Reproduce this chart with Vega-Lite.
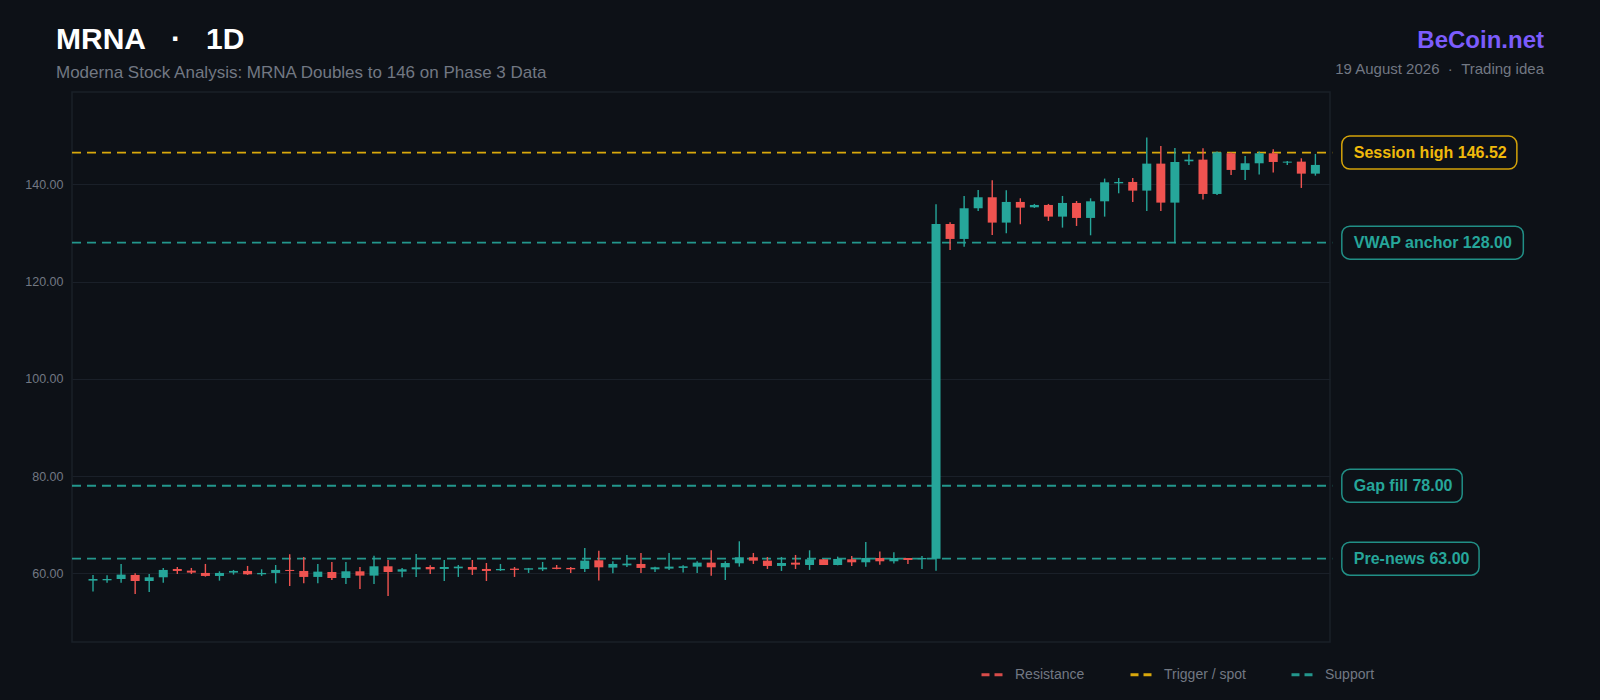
{
  "$schema": "https://vega.github.io/schema/vega-lite/v6.json",
  "width": 1258,
  "height": 550,
  "autosize": "none",
  "padding": {"left": 72, "top": 92, "right": 270, "bottom": 58},
  "background": "#0d1117",
  "title": {
    "text": "MRNA\u00a0\u00a0\u00a0·\u00a0\u00a0\u00a01D",
    "subtitle": "Moderna Stock Analysis: MRNA Doubles to 146 on Phase 3 Data",
    "anchor": "start",
    "frame": "group",
    "dx": -16,
    "offset": -52,
    "font": "Liberation Sans",
    "fontSize": 30,
    "fontWeight": "bold",
    "color": "#ffffff",
    "subtitleFont": "Liberation Sans",
    "subtitleFontSize": 17,
    "subtitleColor": "#727883",
    "subtitlePadding": 10
  },
  "config": {
    "font": "Liberation Sans",
    "view": {"stroke": "#1a2029", "strokeWidth": 1.5}
  },
  "datasets": {
    "candles": [
      {"day": 0, "open": 58.49, "high": 59.66, "low": 56.23, "close": 58.83},
      {"day": 1, "open": 58.56, "high": 59.59, "low": 58.08, "close": 58.83},
      {"day": 2, "open": 58.83, "high": 61.92, "low": 58.08, "close": 59.73},
      {"day": 3, "open": 59.66, "high": 60.0, "low": 55.75, "close": 58.42},
      {"day": 4, "open": 58.42, "high": 59.86, "low": 56.16, "close": 59.18},
      {"day": 5, "open": 59.18, "high": 61.1, "low": 58.08, "close": 60.69},
      {"day": 6, "open": 60.89, "high": 61.3, "low": 59.86, "close": 60.48},
      {"day": 7, "open": 60.55, "high": 61.1, "low": 59.86, "close": 60.14},
      {"day": 8, "open": 60.07, "high": 61.92, "low": 59.31, "close": 59.45},
      {"day": 9, "open": 59.45, "high": 60.41, "low": 58.49, "close": 60.07},
      {"day": 10, "open": 60.14, "high": 60.69, "low": 59.73, "close": 60.48},
      {"day": 11, "open": 60.48, "high": 61.51, "low": 59.66, "close": 59.79},
      {"day": 12, "open": 59.79, "high": 60.82, "low": 59.45, "close": 60.07},
      {"day": 13, "open": 60.07, "high": 61.71, "low": 57.94, "close": 60.69},
      {"day": 14, "open": 60.69, "high": 63.91, "low": 57.4, "close": 60.48},
      {"day": 15, "open": 60.48, "high": 63.36, "low": 57.94, "close": 59.25},
      {"day": 16, "open": 59.25, "high": 61.92, "low": 57.94, "close": 60.34},
      {"day": 17, "open": 60.27, "high": 62.33, "low": 58.63, "close": 59.04},
      {"day": 18, "open": 59.04, "high": 62.33, "low": 57.81, "close": 60.41},
      {"day": 19, "open": 60.41, "high": 61.3, "low": 56.78, "close": 59.52},
      {"day": 20, "open": 59.52, "high": 63.63, "low": 57.81, "close": 61.44},
      {"day": 21, "open": 61.44, "high": 62.74, "low": 55.34, "close": 60.27},
      {"day": 22, "open": 60.34, "high": 61.1, "low": 59.18, "close": 60.82},
      {"day": 23, "open": 60.82, "high": 63.98, "low": 59.25, "close": 61.23},
      {"day": 24, "open": 61.3, "high": 61.64, "low": 59.86, "close": 60.82},
      {"day": 25, "open": 60.89, "high": 62.74, "low": 58.42, "close": 61.3},
      {"day": 26, "open": 61.03, "high": 61.71, "low": 59.25, "close": 61.37},
      {"day": 27, "open": 61.3, "high": 62.74, "low": 59.66, "close": 60.75},
      {"day": 28, "open": 60.89, "high": 62.12, "low": 58.42, "close": 60.48},
      {"day": 29, "open": 60.62, "high": 61.92, "low": 60.48, "close": 60.89},
      {"day": 30, "open": 60.96, "high": 61.3, "low": 59.25, "close": 60.69},
      {"day": 31, "open": 60.75, "high": 61.1, "low": 60.07, "close": 61.03},
      {"day": 32, "open": 60.82, "high": 62.33, "low": 60.48, "close": 61.17},
      {"day": 33, "open": 61.17, "high": 61.71, "low": 60.82, "close": 60.89},
      {"day": 34, "open": 61.1, "high": 61.3, "low": 60.07, "close": 60.82},
      {"day": 35, "open": 60.89, "high": 65.21, "low": 60.27, "close": 62.6},
      {"day": 36, "open": 62.67, "high": 64.66, "low": 58.5, "close": 61.23},
      {"day": 37, "open": 61.17, "high": 62.47, "low": 60.0, "close": 61.92},
      {"day": 38, "open": 61.64, "high": 63.77, "low": 61.3, "close": 61.99},
      {"day": 39, "open": 61.92, "high": 64.18, "low": 60.07, "close": 61.1},
      {"day": 40, "open": 60.82, "high": 61.37, "low": 60.27, "close": 61.23},
      {"day": 41, "open": 60.96, "high": 64.18, "low": 60.69, "close": 61.37},
      {"day": 42, "open": 61.1, "high": 61.64, "low": 60.14, "close": 61.44},
      {"day": 43, "open": 61.37, "high": 62.47, "low": 60.07, "close": 62.19},
      {"day": 44, "open": 62.19, "high": 64.73, "low": 59.52, "close": 61.23},
      {"day": 45, "open": 61.23, "high": 62.47, "low": 58.6, "close": 62.12},
      {"day": 46, "open": 62.06, "high": 66.58, "low": 61.37, "close": 63.29},
      {"day": 47, "open": 63.29, "high": 64.18, "low": 61.92, "close": 62.6},
      {"day": 48, "open": 62.6, "high": 63.36, "low": 60.89, "close": 61.51},
      {"day": 49, "open": 61.51, "high": 63.36, "low": 60.48, "close": 62.12},
      {"day": 50, "open": 62.19, "high": 63.77, "low": 60.89, "close": 61.78},
      {"day": 51, "open": 61.71, "high": 64.73, "low": 60.69, "close": 62.88},
      {"day": 52, "open": 62.88, "high": 62.9, "low": 61.7, "close": 61.71},
      {"day": 53, "open": 61.71, "high": 63.43, "low": 61.64, "close": 62.95},
      {"day": 54, "open": 62.88, "high": 63.56, "low": 61.51, "close": 62.26},
      {"day": 55, "open": 62.26, "high": 66.44, "low": 61.37, "close": 63.15},
      {"day": 56, "open": 63.15, "high": 64.46, "low": 61.78, "close": 62.47},
      {"day": 57, "open": 62.47, "high": 64.32, "low": 61.99, "close": 63.15},
      {"day": 58, "open": 63.15, "high": 63.15, "low": 61.92, "close": 62.74},
      {"day": 59, "open": 62.88, "high": 63.56, "low": 60.89, "close": 63.15},
      {"day": 60, "open": 63.0, "high": 135.9, "low": 60.5, "close": 131.84},
      {"day": 61, "open": 131.84, "high": 132.19, "low": 126.49, "close": 128.76},
      {"day": 62, "open": 128.76, "high": 137.6, "low": 127.18, "close": 135.07},
      {"day": 63, "open": 135.07, "high": 138.83, "low": 134.52, "close": 137.33},
      {"day": 64, "open": 137.33, "high": 140.82, "low": 129.58, "close": 132.12},
      {"day": 65, "open": 132.12, "high": 138.77, "low": 129.92, "close": 136.37},
      {"day": 66, "open": 136.37, "high": 137.12, "low": 131.78, "close": 135.2},
      {"day": 67, "open": 135.27, "high": 135.96, "low": 135.13, "close": 135.75},
      {"day": 68, "open": 135.75, "high": 135.96, "low": 132.46, "close": 133.35},
      {"day": 69, "open": 133.35, "high": 137.6, "low": 131.09, "close": 136.16},
      {"day": 70, "open": 136.16, "high": 136.57, "low": 131.43, "close": 133.08},
      {"day": 71, "open": 133.08, "high": 137.12, "low": 129.51, "close": 136.5},
      {"day": 72, "open": 136.5, "high": 141.17, "low": 133.35, "close": 140.41},
      {"day": 73, "open": 140.2, "high": 141.3, "low": 138.15, "close": 140.48},
      {"day": 74, "open": 140.48, "high": 141.3, "low": 136.37, "close": 138.7},
      {"day": 75, "open": 138.7, "high": 149.6, "low": 134.52, "close": 144.25},
      {"day": 76, "open": 144.25, "high": 147.88, "low": 134.52, "close": 136.23},
      {"day": 77, "open": 136.23, "high": 147.47, "low": 127.9, "close": 144.59},
      {"day": 78, "open": 144.73, "high": 146.17, "low": 143.98, "close": 145.07},
      {"day": 79, "open": 145.07, "high": 147.4, "low": 136.85, "close": 138.01},
      {"day": 80, "open": 138.01, "high": 146.72, "low": 137.81, "close": 146.58},
      {"day": 81, "open": 146.37, "high": 146.58, "low": 141.92, "close": 142.95},
      {"day": 82, "open": 142.95, "high": 145.83, "low": 140.89, "close": 144.32},
      {"day": 83, "open": 144.32, "high": 146.72, "low": 141.99, "close": 146.37},
      {"day": 84, "open": 146.37, "high": 147.2, "low": 142.4, "close": 144.59},
      {"day": 85, "open": 144.45, "high": 144.8, "low": 143.98, "close": 144.66},
      {"day": 86, "open": 144.66, "high": 145.35, "low": 139.25, "close": 142.19},
      {"day": 87, "open": 142.19, "high": 146.24, "low": 141.78, "close": 143.98}
    ],
    "levels": [
      {"price": 146.52, "label": "Session high 146.52", "kind": "Trigger / spot"},
      {"price": 128, "label": "VWAP anchor 128.00", "kind": "Support"},
      {"price": 78, "label": "Gap fill 78.00", "kind": "Support"},
      {"price": 63, "label": "Pre-news 63.00", "kind": "Support"}
    ]
  },
  "layer": [
    {
      "data": {"name": "levels"},
      "mark": {"type": "rule", "strokeWidth": 1.8, "strokeDash": [9, 6], "opacity": 0.9},
      "encoding": {
        "x": {"datum": -1.495, "type": "quantitative", "scale": {"domain": [-1.495, 88.04], "nice": false, "zero": false, "padding": 0}, "axis": null},
        "x2": {"datum": 88.2},
        "y": {
          "field": "price",
          "type": "quantitative",
          "scale": {"domain": [45.87, 158.98], "nice": false, "zero": false, "padding": 0},
          "axis": {
            "title": null,
            "values": [60, 80, 100, 120, 140],
            "format": ".2f",
            "domain": false,
            "ticks": false,
            "labelPadding": 9,
            "labelFontSize": 12.5,
            "labelColor": "#727883",
            "gridColor": "#1a2029",
            "gridWidth": 1
          }
        },
        "color": {
          "field": "kind",
          "type": "nominal",
          "scale": {"domain": ["Resistance", "Trigger / spot", "Support"], "range": ["#ef5350", "#f0b90b", "#26a69a"]},
          "legend": {
            "orient": "none",
            "legendX": 908,
            "legendY": 570,
            "direction": "horizontal",
            "title": null,
            "symbolType": "stroke",
            "symbolSize": 484,
            "symbolStrokeWidth": 3,
            "symbolDash": [8, 5],
            "labelFontSize": 14,
            "labelColor": "#727883",
            "labelOffset": 10,
            "columnPadding": 39
          }
        }
      }
    },
    {
      "data": {"name": "candles"},
      "mark": {"type": "rule", "strokeWidth": 1.4},
      "encoding": {
        "x": {"field": "day", "type": "quantitative", "scale": {"domain": [-1.495, 88.04], "nice": false, "zero": false, "padding": 0}, "axis": null},
        "y": {"field": "low", "type": "quantitative", "scale": {"domain": [45.87, 158.98], "nice": false, "zero": false, "padding": 0}, "title": null},
        "y2": {"field": "high"},
        "color": {"condition": {"test": "datum.close >= datum.open", "value": "#26a69a"}, "value": "#ef5350"}
      }
    },
    {
      "data": {"name": "candles"},
      "mark": {"type": "bar", "width": 9},
      "encoding": {
        "x": {"field": "day", "type": "quantitative", "scale": {"domain": [-1.495, 88.04], "nice": false, "zero": false, "padding": 0}, "axis": null},
        "y": {"field": "open", "type": "quantitative", "scale": {"domain": [45.87, 158.98], "nice": false, "zero": false, "padding": 0}, "title": null},
        "y2": {"field": "close"},
        "color": {"condition": {"test": "datum.close >= datum.open", "value": "#26a69a"}, "value": "#ef5350"}
      }
    },
    {
      "data": {"name": "levels"},
      "transform": [{"filter": "datum.price == 146.52"}],
      "mark": {"type": "bar", "orient": "horizontal", "height": 33, "cornerRadius": 8, "fill": "#0d1117", "stroke": "#d4a30a", "strokeWidth": 1.5},
      "encoding": {
        "x": {"datum": 88.88, "type": "quantitative", "scale": {"domain": [-1.495, 88.04], "nice": false, "zero": false, "padding": 0}, "axis": null},
        "x2": {"datum": 101.34},
        "y": {"field": "price", "type": "quantitative", "scale": {"domain": [45.87, 158.98], "nice": false, "zero": false, "padding": 0}, "title": null}
      }
    },
    {
      "data": {"name": "levels"},
      "transform": [{"filter": "datum.price == 128"}],
      "mark": {"type": "bar", "orient": "horizontal", "height": 33, "cornerRadius": 8, "fill": "#0d1117", "stroke": "#218f86", "strokeWidth": 1.5},
      "encoding": {
        "x": {"datum": 88.88, "type": "quantitative", "scale": {"domain": [-1.495, 88.04], "nice": false, "zero": false, "padding": 0}, "axis": null},
        "x2": {"datum": 101.8},
        "y": {"field": "price", "type": "quantitative", "scale": {"domain": [45.87, 158.98], "nice": false, "zero": false, "padding": 0}, "title": null}
      }
    },
    {
      "data": {"name": "levels"},
      "transform": [{"filter": "datum.price == 78"}],
      "mark": {"type": "bar", "orient": "horizontal", "height": 33, "cornerRadius": 8, "fill": "#0d1117", "stroke": "#218f86", "strokeWidth": 1.5},
      "encoding": {
        "x": {"datum": 88.88, "type": "quantitative", "scale": {"domain": [-1.495, 88.04], "nice": false, "zero": false, "padding": 0}, "axis": null},
        "x2": {"datum": 97.45},
        "y": {"field": "price", "type": "quantitative", "scale": {"domain": [45.87, 158.98], "nice": false, "zero": false, "padding": 0}, "title": null}
      }
    },
    {
      "data": {"name": "levels"},
      "transform": [{"filter": "datum.price == 63"}],
      "mark": {"type": "bar", "orient": "horizontal", "height": 33, "cornerRadius": 8, "fill": "#0d1117", "stroke": "#218f86", "strokeWidth": 1.5},
      "encoding": {
        "x": {"datum": 88.88, "type": "quantitative", "scale": {"domain": [-1.495, 88.04], "nice": false, "zero": false, "padding": 0}, "axis": null},
        "x2": {"datum": 98.65},
        "y": {"field": "price", "type": "quantitative", "scale": {"domain": [45.87, 158.98], "nice": false, "zero": false, "padding": 0}, "title": null}
      }
    },
    {
      "data": {"name": "levels"},
      "mark": {"type": "text", "align": "left", "baseline": "middle", "dx": 12, "fontSize": 16, "fontWeight": "bold"},
      "encoding": {
        "x": {"datum": 88.88, "type": "quantitative", "scale": {"domain": [-1.495, 88.04], "nice": false, "zero": false, "padding": 0}, "axis": null},
        "y": {"field": "price", "type": "quantitative", "scale": {"domain": [45.87, 158.98], "nice": false, "zero": false, "padding": 0}, "title": null},
        "text": {"field": "label"},
        "color": {"field": "kind", "type": "nominal", "legend": null}
      }
    },
    {
      "data": {"values": [{"brand": "BeCoin.net"}]},
      "mark": {"type": "text", "align": "right", "baseline": "alphabetic", "fontSize": 24, "fontWeight": "bold", "color": "#7c5cfc"},
      "encoding": {
        "x": {"datum": 103.27, "type": "quantitative", "scale": {"domain": [-1.495, 88.04], "nice": false, "zero": false, "padding": 0}, "axis": null},
        "y": {"datum": 168, "type": "quantitative", "scale": {"domain": [45.87, 158.98], "nice": false, "zero": false, "padding": 0}, "title": null},
        "text": {"field": "brand"}
      }
    },
    {
      "data": {"values": [{"note": "19 August 2026\u00a0\u00a0·\u00a0\u00a0Trading idea"}]},
      "mark": {"type": "text", "align": "right", "baseline": "alphabetic", "fontSize": 15, "color": "#727883"},
      "encoding": {
        "x": {"datum": 103.27, "type": "quantitative", "scale": {"domain": [-1.495, 88.04], "nice": false, "zero": false, "padding": 0}, "axis": null},
        "y": {"datum": 162.7, "type": "quantitative", "scale": {"domain": [45.87, 158.98], "nice": false, "zero": false, "padding": 0}, "title": null},
        "text": {"field": "note"}
      }
    }
  ]
}
